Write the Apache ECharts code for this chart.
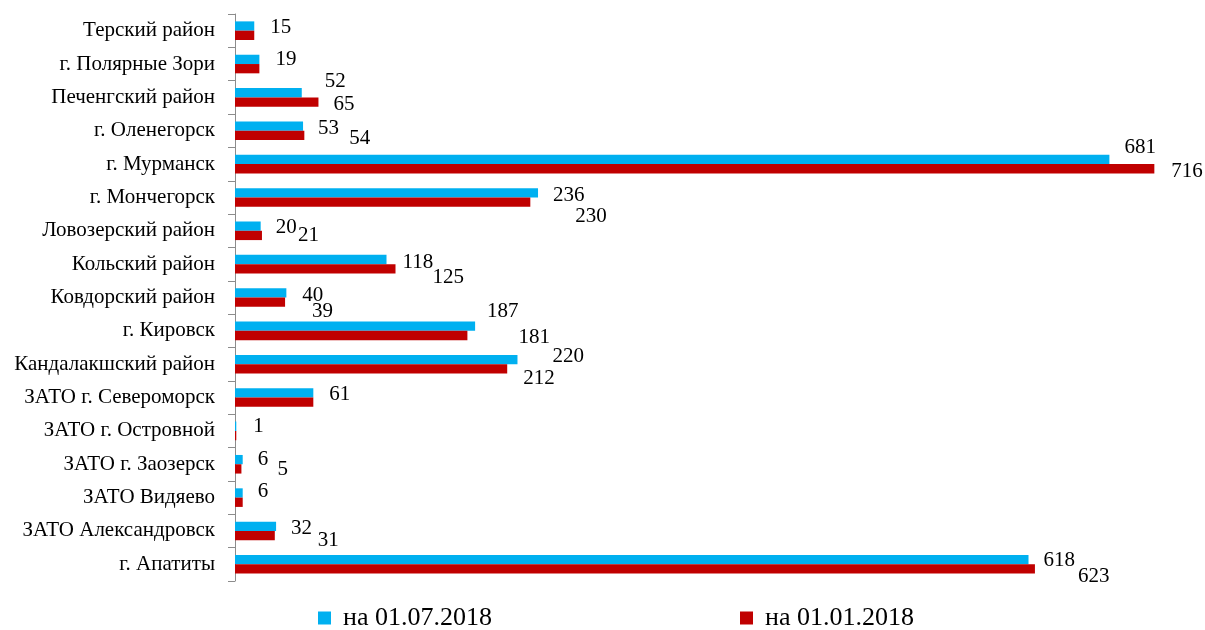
<!DOCTYPE html>
<html>
<head>
<meta charset="utf-8">
<script src="https://cdn.jsdelivr.net/npm/echarts@6/dist/echarts.min.js"></script>
<style>
html,body{margin:0;padding:0;background:#fff;}
#chart{width:1205px;height:630px;}
</style>
</head>
<body>
<div id="chart"></div>
<script>
// Categories listed bottom-to-top (ECharts category y-axis order)
const categories = [
  'г. Апатиты', 'ЗАТО Александровск', 'ЗАТО Видяево', 'ЗАТО г. Заозерск',
  'ЗАТО г. Островной', 'ЗАТО г. Североморск', 'Кандалакшский район', 'г. Кировск',
  'Ковдорский район', 'Кольский район', 'Ловозерский район', 'г. Мончегорск',
  'г. Мурманск', 'г. Оленегорск', 'Печенгский район', 'г. Полярные Зори', 'Терский район'
];
const seriesNames = ['на 01.07.2018', 'на 01.01.2018'];
const valuesJul = [618, 32, 6, 6, 1, 61, 220, 187, 40, 118, 20, 236, 681, 53, 52, 19, 15];
const valuesJan = [623, 31, 6, 5, 1, 61, 212, 181, 39, 125, 21, 230, 716, 54, 65, 19, 15];

// label placement (relative offsets from bar end), null = label not shown
const labelShiftJul = [[15,1],[15,2],[15,-1],[15,0],[17,0],[16,2],[35,-3.5],[12,-15],[16,3],[16,2.5],[15,1],[15,3],[15,-12],[15,2],[23,-11],[16,0.6],[16,1]];
const labelShiftJan = [[43,8],[43,5],null,[36,1],null,null,[16,10],[51,2],[27,9],[37,9],[36,0.5],[45,14],[17,3],[45,3.5],[15,2],null,null];

const FONT = "'Liberation Serif','Times New Roman',serif";

function build(values, shifts) {
  return values.map((v, i) => {
    const s = shifts[i];
    return {
      value: v,
      label: s ? { show: true, offset: s } : { show: false }
    };
  });
}

const legendBase = {
  top: 605,
  padding: 0,
  itemWidth: 13,
  itemHeight: 13,
  icon: 'rect',
  textStyle: { fontFamily: FONT, fontSize: 26, color: '#000', padding: [0, 0, 0, 7] }
};

const chart = echarts.init(document.getElementById('chart'));
chart.setOption({
  animation: false,
  backgroundColor: '#ffffff',
  grid: { left: 235, right: 7, top: 14, bottom: 49, containLabel: false },
  legend: [
    Object.assign({}, legendBase, { data: [seriesNames[0]], left: 318 }),
    Object.assign({}, legendBase, { data: [seriesNames[1]], left: 740 })
  ],
  xAxis: {
    type: 'value',
    min: 0,
    max: 750,
    show: false,
    splitLine: { show: false }
  },
  yAxis: {
    type: 'category',
    data: categories,
    axisLine: { show: true, lineStyle: { color: '#8c8c8c', width: 1 } },
    axisTick: { show: true, length: 7, lineStyle: { color: '#8c8c8c' } },
    axisLabel: { fontFamily: FONT, fontSize: 21, color: '#000', margin: 20 }
  },
  series: [
    {
      name: seriesNames[0],
      type: 'bar',
      data: build(valuesJul, labelShiftJul),
      barWidth: 9.3,
      barGap: '0%',
      itemStyle: { color: '#00B0F0' },
      label: { position: 'right', distance: 0, fontFamily: FONT, fontSize: 21, color: '#000' }
    },
    {
      name: seriesNames[1],
      type: 'bar',
      data: build(valuesJan, labelShiftJan),
      barWidth: 9.3,
      barGap: '0%',
      itemStyle: { color: '#C00000' },
      label: { position: 'right', distance: 0, fontFamily: FONT, fontSize: 21, color: '#000' }
    }
  ]
});
</script>
</body>
</html>
